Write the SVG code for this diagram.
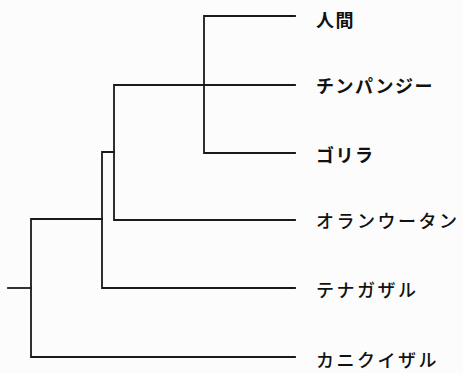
<svg xmlns="http://www.w3.org/2000/svg" width="463" height="373" viewBox="0 0 463 373">
<style>
.e{fill:none;stroke:#1a1a1a;stroke-width:1.8;stroke-linecap:square}
.t{font-family:"Noto Sans CJK JP",sans-serif;font-size:18px;font-weight:500;fill:#111;letter-spacing:2.5px;dominant-baseline:central}
.b{font-weight:bold;letter-spacing:1.5px}
</style>
<rect width="463" height="373" fill="#fcfcfc"/>
<g id="connectors">
<path class="e" d="M295,16 H204 V153 H295"/>
<path class="e" d="M295,85 H114 V220 H295"/>
<path class="e" d="M114,152 H102 V288 H295"/>
<path class="e" d="M102,219 H31 V357 H295"/>
<path class="e" d="M8,288 H31"/>
</g>
<g id="human"><text class="t b" x="316" y="19">人間</text></g>
<g id="chimp"><text class="t b" x="316" y="85">チンパンジー</text></g>
<g id="gorilla"><text class="t b" x="316" y="154">ゴリラ</text></g>
<g id="orangutan"><text class="t" x="316" y="220">オランウータン</text></g>
<g id="gibbon"><text class="t" x="316" y="289">テナガザル</text></g>
<g id="macaque"><text class="t" x="316" y="359">カニクイザル</text></g>
</svg>
